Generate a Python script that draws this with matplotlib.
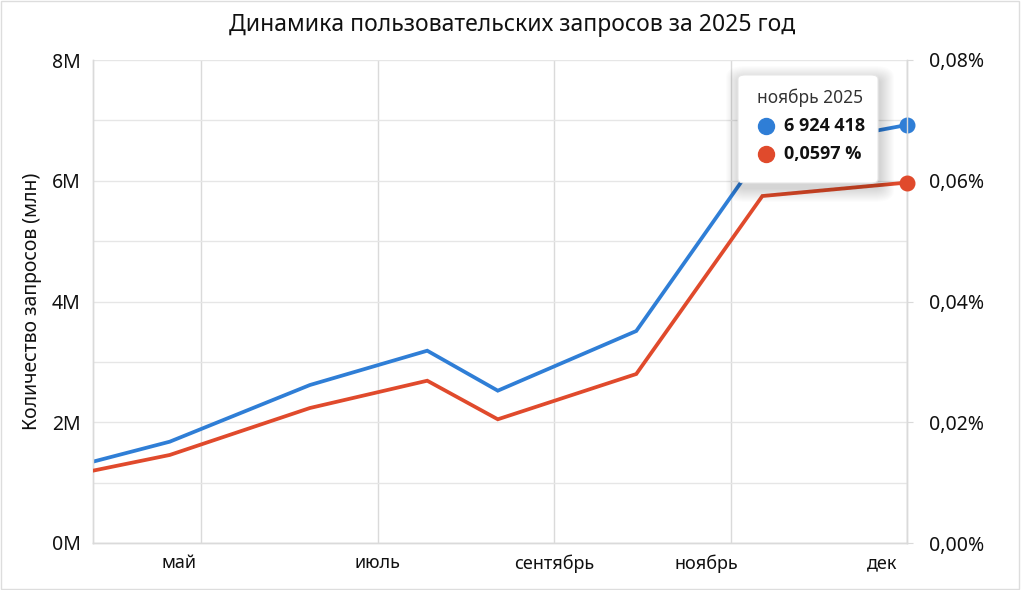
import matplotlib
matplotlib.use("Agg")
import matplotlib.pyplot as plt
from matplotlib.patches import FancyBboxPatch, Rectangle
from matplotlib.ticker import FuncFormatter, MultipleLocator

plt.rcParams['font.family'] = ['Noto Sans', 'DejaVu Sans']

# month position (5 = май, 7 = июль, ...) of each data point
months = [3.77, 4.64, 6.23, 7.56, 8.36, 9.93, 11.36, 13.0]
requests = [1347000, 1678000, 2617000, 3185000, 2523000, 3511000, 6476000, 6924418]
share = [0.01198, 0.01458, 0.02236, 0.02688, 0.02049, 0.02799, 0.05747, 0.0597]

grid_months = [5, 7, 9, 11, 13]
label_months = [4.74, 7.0, 9.0, 10.73, 12.72]
month_labels = ['май', 'июль', 'сентябрь', 'ноябрь', 'дек']

tooltip_title = 'ноябрь 2025'

blue = '#2F7ED6'
red = '#E04A2C'
grid_c = '#DADADA'

fig = plt.figure(figsize=(10.24, 5.90), dpi=100)
ax = fig.add_axes([93/1024, 47/590, 814/1024, 483/590])
ax2 = ax.twinx()

ax.plot(months, requests, color=blue, lw=2.7, solid_joinstyle='miter', zorder=3)
ax2.plot(months, share, color=red, lw=2.7, solid_joinstyle='miter', zorder=3)
ax.plot(months[-1:], requests[-1:], 'o', color=blue, ms=10.5, clip_on=False, zorder=5)
ax2.plot(months[-1:], share[-1:], 'o', color=red, ms=10.5, clip_on=False, zorder=5)

ax.set_xlim(months[0], months[-1])
ax.set_ylim(0, 8e6)
ax2.set_ylim(0, 0.08)

ax.yaxis.set_major_locator(MultipleLocator(2e6))
ax.yaxis.set_minor_locator(MultipleLocator(1e6))
ax.yaxis.set_major_formatter(FuncFormatter(lambda v, p: f'{v/1e6:.0f}M'))
ax2.yaxis.set_major_locator(MultipleLocator(0.02))
ax2.yaxis.set_major_formatter(FuncFormatter(lambda v, p: f'{v:.2f}%'.replace('.', ',')))

ax.xaxis.remove_overlapping_locs = False
ax.set_xticks(grid_months)
ax.set_xticklabels([''] * len(grid_months))
ax.set_xticks(label_months, minor=True)
ax.set_xticklabels(month_labels, minor=True)
ax.tick_params(axis='x', which='both', length=0, labelsize=13, pad=8, colors='#111111')
ax.tick_params(axis='y', which='both', length=0, labelsize=14, pad=9, colors='#111111')
ax2.tick_params(axis='y', length=4, labelsize=14, pad=12, colors='#111111')
ax2.tick_params(axis='y', color=grid_c)

ax.grid(True, which='major', axis='x', color=grid_c, lw=1)
ax.grid(True, which='both', axis='y', color='#E6E6E6', lw=1)
ax.set_axisbelow(True)

for a in (ax, ax2):
    for s in a.spines.values():
        s.set_color(grid_c)
        s.set_linewidth(1)
    a.spines['top'].set_visible(False)

ax.set_ylabel('Количество запросов (млн)', fontsize=14, labelpad=7, color='#111111')
fig.text(0.5, 0.957, 'Динамика пользовательских запросов за 2025 год',
         ha='center', va='center', fontsize=16.5, color='#111111')

# tooltip box with soft shadow (figure pixel coordinates)
def px(x, y):
    return x / 1024, 1 - y / 590

bx0, by0 = px(738, 183)
bx1, by1 = px(878, 75)
for g in range(14, 0, -1):
    fig.patches.append(FancyBboxPatch(
        (bx0 - g/1024 + 2/1024, by0 - g/590 - 5/590),
        bx1 - bx0 + 2*g/1024, by1 - by0 + 2*g/590,
        boxstyle=f'round,pad=0,rounding_size={(6+g)/1024}', transform=fig.transFigure,
        facecolor='black', edgecolor='none', alpha=0.012, zorder=10))
fig.patches.append(FancyBboxPatch(
    (bx0, by0), bx1 - bx0, by1 - by0,
    boxstyle=f'round,pad=0,rounding_size={7/1024}', transform=fig.transFigure,
    facecolor='white', edgecolor='#E6E6E6', lw=0.8, zorder=11))

tx, ty = px(810, 98)
fig.text(tx, ty, tooltip_title, ha='center', va='center', fontsize=12.5,
         color='#333333', zorder=12)
dx, dy = px(766, 126)
fig.lines.append(plt.Line2D([dx], [dy], marker='o', ms=11.5, color=blue,
                            transform=fig.transFigure, zorder=12))
vx, vy = px(784, 126)
fig.text(vx, vy, f'{requests[-1]:,}'.replace(',', ' '), ha='left', va='center',
         fontsize=13, fontweight='bold', family='Open Sans', color='#111111', zorder=12)
dx, dy = px(766, 154)
fig.lines.append(plt.Line2D([dx], [dy], marker='o', ms=11.5, color=red,
                            transform=fig.transFigure, zorder=12))
vx, vy = px(784, 154)
fig.text(vx, vy, f'{share[-1]:.4f} %'.replace('.', ','), ha='left', va='center',
         fontsize=13, fontweight='bold', family='Open Sans', color='#111111', zorder=12)

# light card border
fig.patches.append(Rectangle((1/1024, 1/590), 1018/1024, 588/590, transform=fig.transFigure,
                             fill=False, edgecolor='#DDDDDD', lw=1, zorder=0))

fig.savefig('out.png', dpi=100)
